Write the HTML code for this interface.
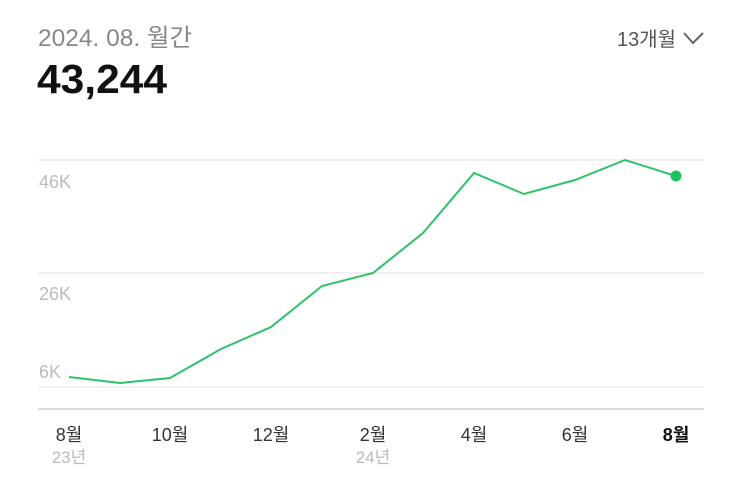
<!DOCTYPE html>
<html><head><meta charset="utf-8"><style>
body{margin:0;background:#fff;font-family:"Liberation Sans","Noto Sans CJK KR",sans-serif;}
</style></head><body>
<svg width="743" height="485" xmlns="http://www.w3.org/2000/svg" style="display:block">
<text x="38" y="46" font-size="24.5" fill="#888" font-family="Liberation Sans,Noto Sans CJK KR,sans-serif">2024. 08. 월간</text>
<text x="37" y="93" font-size="41" font-weight="bold" fill="#111" font-family="Liberation Sans,Noto Sans CJK KR,sans-serif" textLength="130" lengthAdjust="spacingAndGlyphs">43,244</text>
<text x="617" y="46" font-size="20" fill="#555" font-family="Liberation Sans,Noto Sans CJK KR,sans-serif">13개월</text>
<polyline points="684,33 693,43 703,33" fill="none" stroke="#666" stroke-width="2"/>
<g stroke="#ebebeb" stroke-width="1.5">
<line x1="38" y1="160" x2="704" y2="160"/>
<line x1="38" y1="273" x2="704" y2="273"/>
<line x1="38" y1="387" x2="704" y2="387"/>
</g>
<line x1="38" y1="409" x2="704" y2="409" stroke="#ddd" stroke-width="2"/>
<g font-size="18" fill="#bbb" font-family="Liberation Sans,sans-serif">
<text x="39" y="188">46K</text>
<text x="39" y="300">26K</text>
<text x="39" y="378">6K</text>
</g>
<polyline points="69,377 120,383 170,378 221,349 271,327 322,286 373,273 423,233 474,173 524,194 575,180 625,160 676,176" fill="none" stroke="#2ec26a" stroke-width="2"/>
<circle cx="676" cy="176" r="5.5" fill="#1dc260"/>
<g font-size="18" fill="#333" text-anchor="middle" font-family="Liberation Sans,Noto Sans CJK KR,sans-serif">
<text x="69" y="441">8월</text>
<text x="170" y="441">10월</text>
<text x="271" y="441">12월</text>
<text x="373" y="441">2월</text>
<text x="474" y="441">4월</text>
<text x="575" y="441">6월</text>
<text x="676" y="441" font-weight="bold" fill="#111">8월</text>
</g>
<g font-size="17" fill="#bbb" text-anchor="middle" font-family="Liberation Sans,Noto Sans CJK KR,sans-serif">
<text x="69" y="463">23년</text>
<text x="373" y="463">24년</text>
</g>
</svg>
</body></html>
